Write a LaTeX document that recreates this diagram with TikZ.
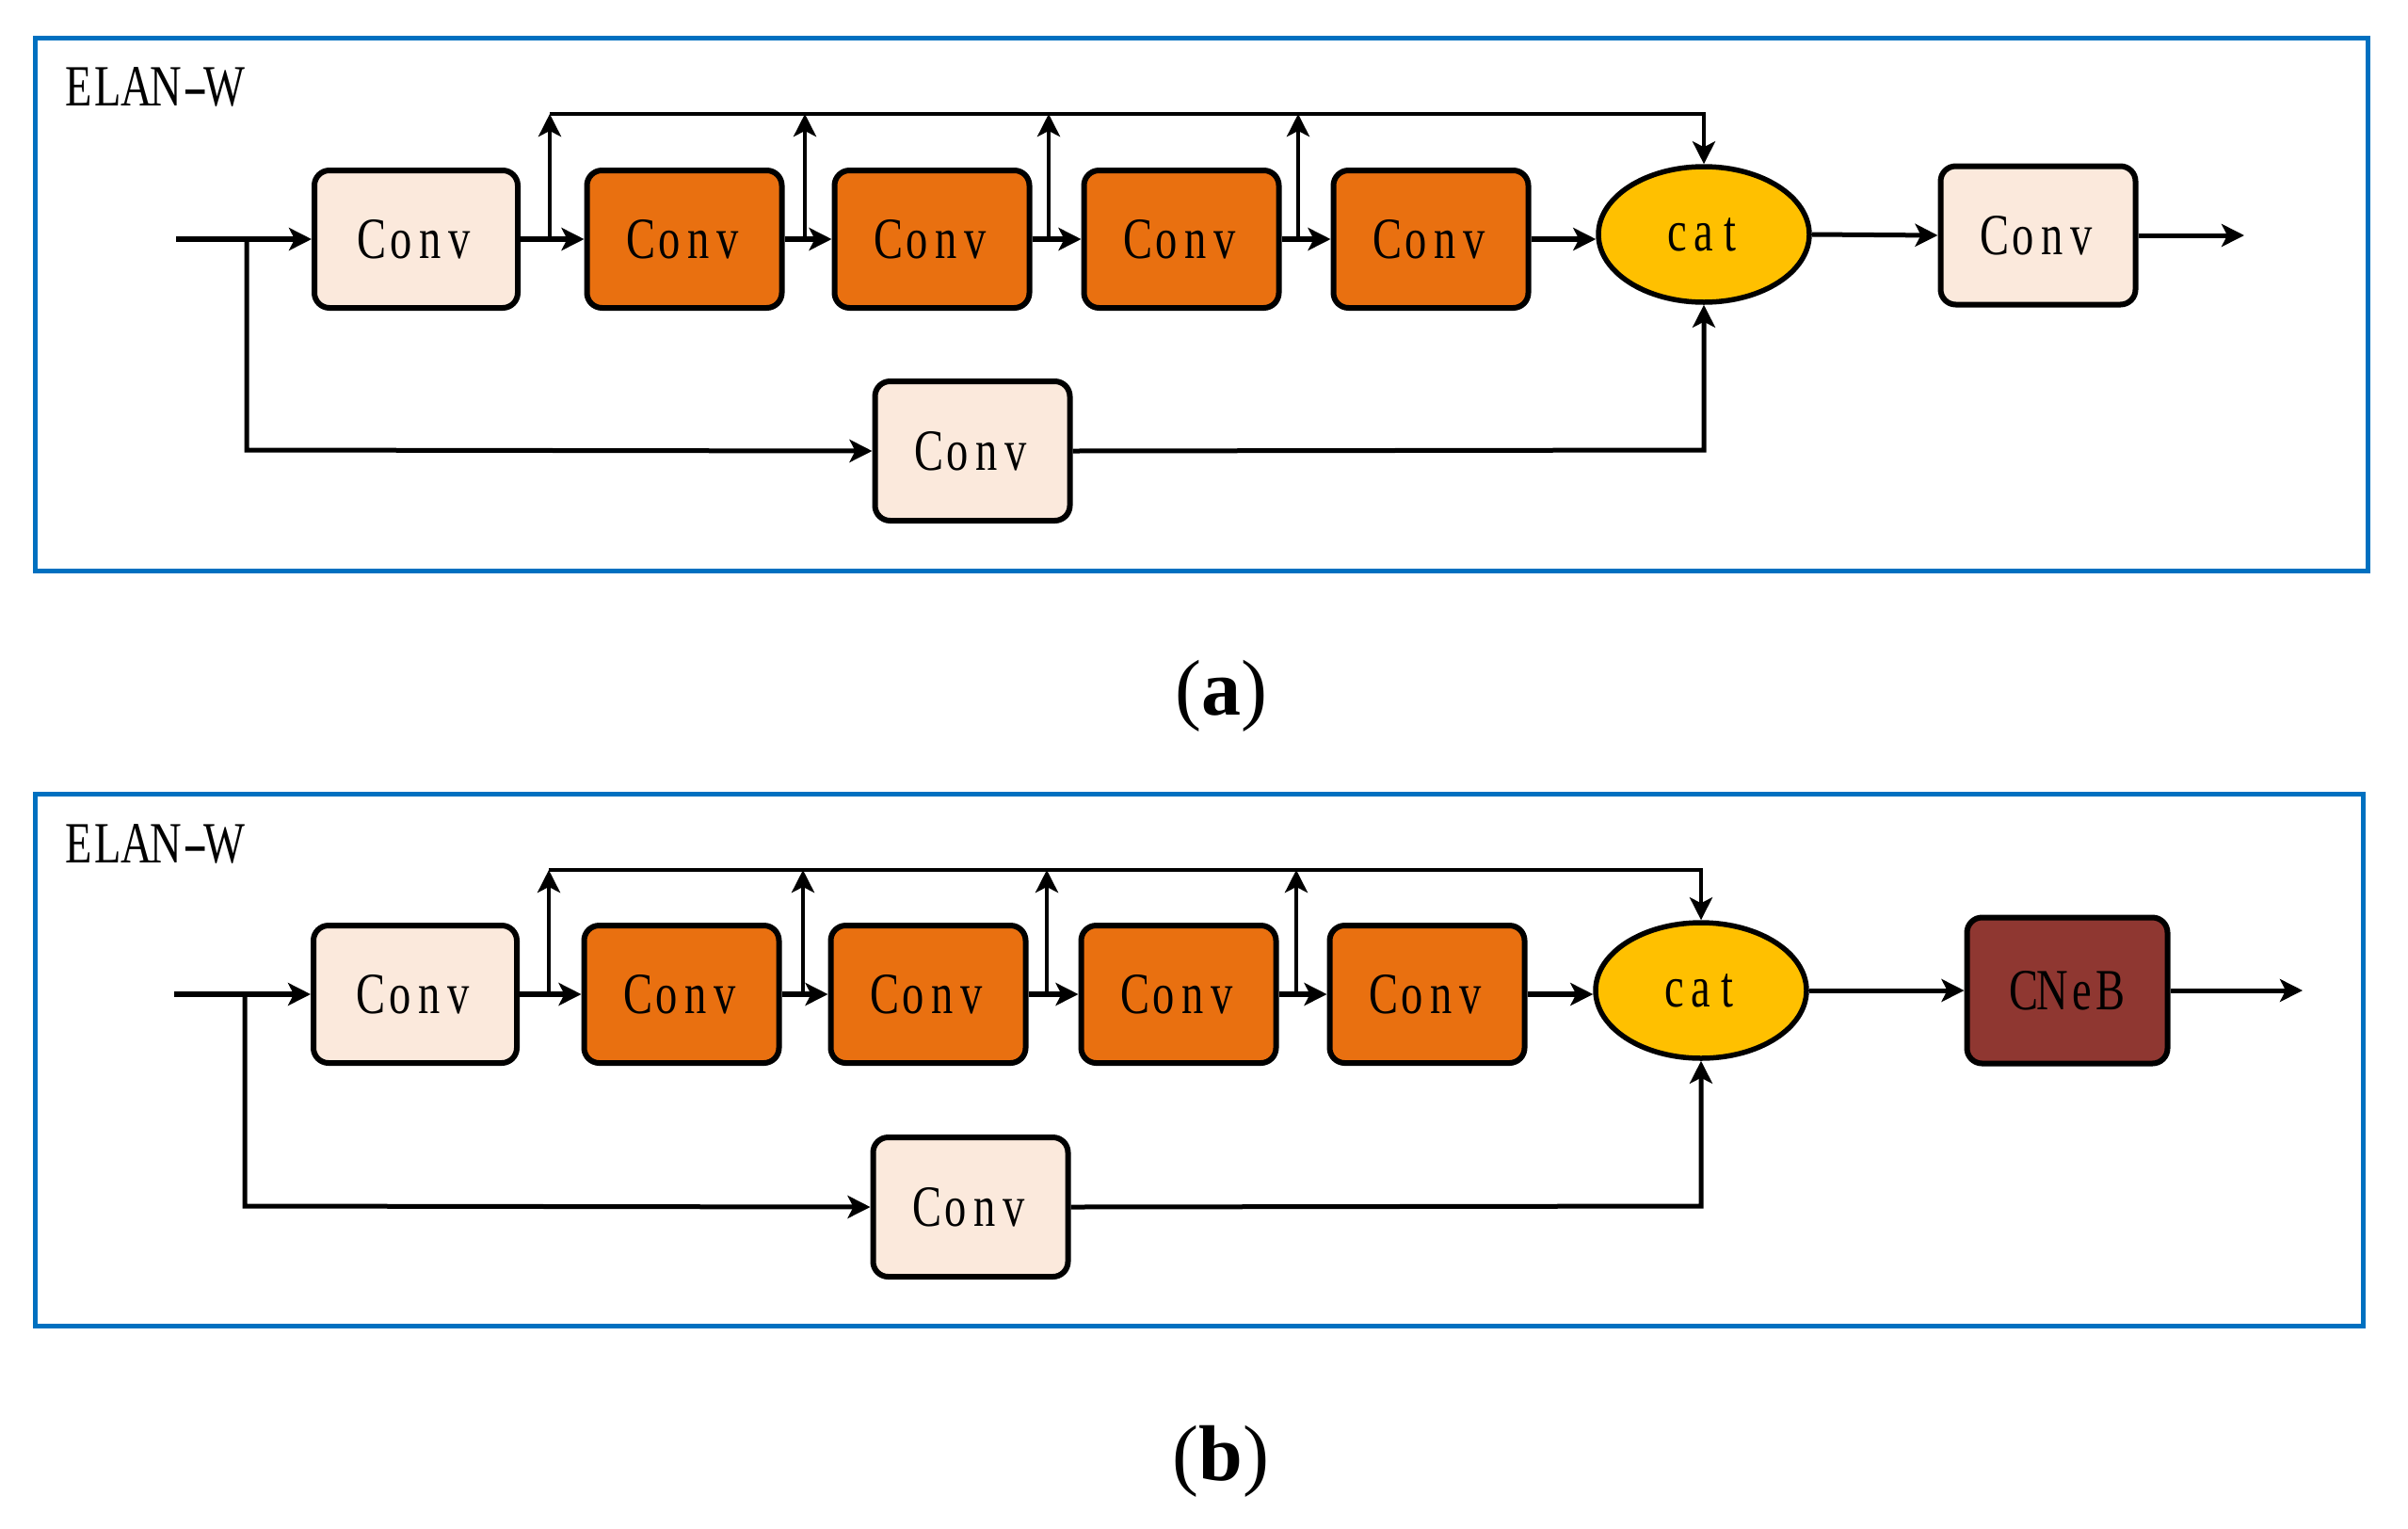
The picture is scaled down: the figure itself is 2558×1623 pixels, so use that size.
\documentclass[tikz,border=0pt]{standalone}
\usepackage{fontspec}
\usepackage{graphicx}
\setmainfont{Liberation Serif}
\newfontfamily\simfont[FakeStretch=0.75]{Liberation Serif}
\usetikzlibrary{arrows.meta,shapes.geometric}
\definecolor{frameblue}{RGB}{0,112,192}
\definecolor{peach}{RGB}{251,233,220}
\definecolor{orangebox}{RGB}{233,112,16}
\definecolor{catyellow}{RGB}{255,192,0}
\definecolor{cnebred}{RGB}{143,55,49}
\newlength\mcw
\setlength\mcw{31pt}
\makeatletter
\newcommand\monotext[1]{\@tfor\mt@c:=#1\do{\makebox[\mcw][c]{\mt@c}}}
\makeatother
\newcommand\elanw{\monotext{ELAN}\makebox[\mcw][c]{\scalebox{1.7}[1]{-}}\makebox[\mcw][c]{W}}
\tikzset{
  frame/.style={draw=frameblue,line width=5pt},
  blockbase/.style={draw=black,line width=6pt,rounded corners=16pt,inner sep=0pt,
     font=\simfont\fontsize{62}{70}\selectfont},
  lightbox/.style={blockbase,fill=peach,minimum width=207pt,minimum height=146pt},
  firstbox/.style={blockbase,fill=peach,minimum width=216pt,minimum height=146pt},
  darkbox/.style={blockbase,fill=orangebox,minimum width=207pt,minimum height=146pt},
  cnebbox/.style={blockbase,fill=cnebred,minimum width=213pt,minimum height=155pt},
  catnode/.style={ellipse,draw=black,line width=5.5pt,fill=catyellow,inner sep=0pt,
     minimum width=224pt,minimum height=144pt,font=\simfont\fontsize{62}{70}\selectfont},
  titletext/.style={anchor=base west,inner sep=0pt,font=\simfont\fontsize{62}{70}\selectfont},
  captiontext/.style={anchor=base,inner sep=0pt,font=\fontsize{84}{90}\selectfont},
  tip/.style={-{Stealth[length=24pt,width=24pt,inset=6pt]}},
  mainline/.style={line width=6pt,tip},
  sidearrow/.style={line width=4.5pt,tip},
  lowarrow/.style={line width=5pt,tip},
}
\begin{document}
\begin{tikzpicture}[x=1pt,y=-1pt]
\useasboundingbox (0,0) rectangle (2558,1623);

% ================= panel (a) =================
\draw[frame] (37,40) rectangle (2515,606);
\node[titletext] (ta) at (68,112) {\elanw};

\node[firstbox] (a1) at (442,254) {\monotext{Conv}};
\node[darkbox] (a2) at (727,254) {\monotext{Conv}};
\node[darkbox] (a3) at (990,254) {\monotext{Conv}};
\node[darkbox] (a4) at (1255,254) {\monotext{Conv}};
\node[darkbox] (a5) at (1520,254) {\monotext{Conv}};
\node[catnode] (acat) at (1810,249) {\setlength\mcw{28pt}\monotext{cat}};
\node[lightbox,minimum height=147pt] (aout) at (2165,250) {\monotext{Conv}};
\node[lightbox,minimum height=148pt] (alow) at (1033,479) {\monotext{Conv}};

\coordinate (ain) at (187,254);
\coordinate (abr) at (262,254);
\coordinate (abr2) at (262,478);
\coordinate (aend) at (2384,250);
\coordinate (av1) at (584,254);
\coordinate (av2) at (855,254);
\coordinate (av3) at (1114,254);
\coordinate (av4) at (1379,254);
\coordinate (at1) at (584,121);
\coordinate (at2) at (855,121);
\coordinate (at3) at (1114,121);
\coordinate (at4) at (1379,121);
\coordinate (atr) at (1810,121);
\coordinate (abr3) at (1810,478);

\draw[mainline] (ain) -- (a1.west);
\draw[mainline] (a1.east) -- (a2.west);
\draw[mainline] (a2.east) -- (a3.west);
\draw[mainline] (a3.east) -- (a4.west);
\draw[mainline] (a4.east) -- (a5.west);
\draw[mainline] (a5.east) -- (a5.east -| acat.west);
\draw[lowarrow] (acat.east) -- (aout.west);
\draw[lowarrow] (aout.east) -- (aend);

\draw[sidearrow] (av1) -- (at1);
\draw[sidearrow] (av2) -- (at2);
\draw[sidearrow] (av3) -- (at3);
\draw[sidearrow] (av4) -- (at4);
\draw[sidearrow] (at1) -- (atr) -- (acat.north);

\draw[lowarrow] (abr) -- (abr2) -- (alow.west);
\draw[lowarrow] (alow.east) -- (abr3) -- (acat.south);

\node[captiontext] (capa) at (1297,759) {(\textbf{a})};

% ================= panel (b) =================
\draw[frame] (37,843) rectangle (2510,1408);
\node[titletext] (tb) at (68,916) {\elanw};

\node[firstbox] (b1) at (441,1056) {\monotext{Conv}};
\node[darkbox] (b2) at (724,1056) {\monotext{Conv}};
\node[darkbox] (b3) at (986,1056) {\monotext{Conv}};
\node[darkbox] (b4) at (1252,1056) {\monotext{Conv}};
\node[darkbox] (b5) at (1516,1056) {\monotext{Conv}};
\node[catnode] (bcat) at (1807,1052) {\setlength\mcw{28pt}\monotext{cat}};
\node[cnebbox] (bout) at (2196,1052) {\monotext{CNeB}};
\node[lightbox,minimum height=148pt] (blow) at (1031,1282) {\monotext{Conv}};

\coordinate (bin) at (185,1056);
\coordinate (bbr) at (260,1056);
\coordinate (bbr2) at (260,1281);
\coordinate (bend) at (2446,1052);
\coordinate (bv1) at (583,1056);
\coordinate (bv2) at (853,1056);
\coordinate (bv3) at (1112,1056);
\coordinate (bv4) at (1377,1056);
\coordinate (bt1) at (583,924);
\coordinate (bt2) at (853,924);
\coordinate (bt3) at (1112,924);
\coordinate (bt4) at (1377,924);
\coordinate (btr) at (1807,924);
\coordinate (bbr3) at (1807,1281);

\draw[mainline] (bin) -- (b1.west);
\draw[mainline] (b1.east) -- (b2.west);
\draw[mainline] (b2.east) -- (b3.west);
\draw[mainline] (b3.east) -- (b4.west);
\draw[mainline] (b4.east) -- (b5.west);
\draw[mainline] (b5.east) -- (b5.east -| bcat.west);
\draw[lowarrow] (bcat.east) -- (bout.west);
\draw[lowarrow] (bout.east) -- (bend);

\draw[sidearrow] (bv1) -- (bt1);
\draw[sidearrow] (bv2) -- (bt2);
\draw[sidearrow] (bv3) -- (bt3);
\draw[sidearrow] (bv4) -- (bt4);
\draw[sidearrow] (bt1) -- (btr) -- (bcat.north);

\draw[lowarrow] (bbr) -- (bbr2) -- (blow.west);
\draw[lowarrow] (blow.east) -- (bbr3) -- (bcat.south);

\node[captiontext] (capb) at (1297,1572) {(\textbf{b})};
\end{tikzpicture}
\end{document}
